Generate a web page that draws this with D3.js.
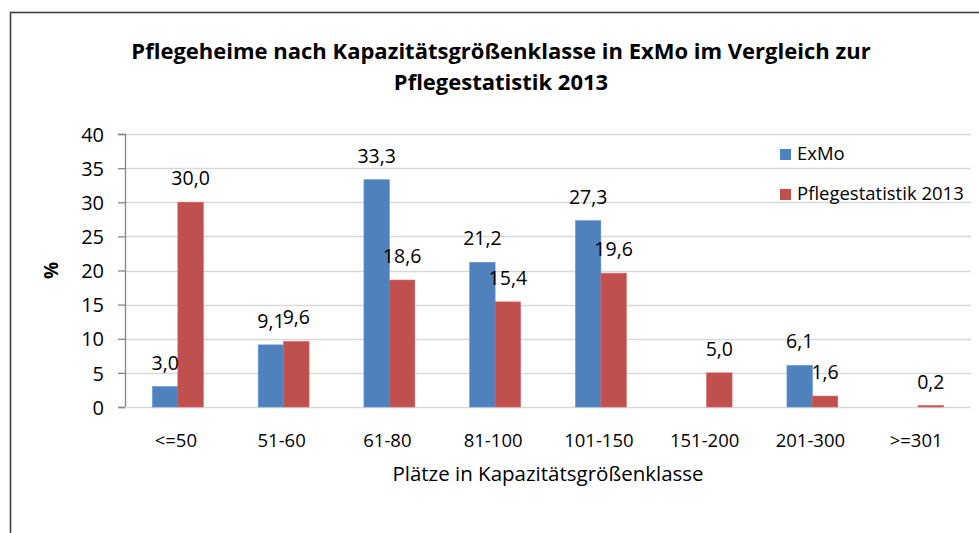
<!DOCTYPE html>
<html>
<head>
<meta charset="utf-8">
<script src="https://cdn.jsdelivr.net/npm/d3@7"></script>
<style>
  body { margin: 0; background: #fff; }
  text { font-family: "Open Sans", sans-serif; fill: #000; }
</style>
</head>
<body>
<svg id="chart" width="979" height="533"></svg>
<script>
const categories = ['<=50', '51-60', '61-80', '81-100', '101-150', '151-200', '201-300', '>=301'];
const seriesNames = ['ExMo', 'Pflegestatistik 2013'];
const exmoValues = [3.0, 9.1, 33.3, 21.2, 27.3, 0, 6.1, 0];
const pflegeValues = [30.0, 9.6, 18.6, 15.4, 19.6, 5.0, 1.6, 0.2];
const yTicks = [0, 5, 10, 15, 20, 25, 30, 35, 40];
const colors = ['#4f81bd', '#c0504d'];

const svg = d3.select('#chart');
const margin = { left: 125, right: 8, top: 134, bottom: 126 };
const width = 979 - margin.left - margin.right;
const height = 533 - margin.top - margin.bottom;

// frame round the chart
svg.append('rect')
  .attr('x', 10.5).attr('y', 12.5)
  .attr('width', 1000).attr('height', 600)
  .attr('fill', 'none')
  .attr('stroke', '#404040')
  .attr('stroke-width', 1.6);

// title
const title = svg.append('text')
  .attr('text-anchor', 'middle')
  .style('font-weight', 'bold')
  .style('font-size', '22px');
title.append('tspan').attr('x', 501).attr('y', 59)
  .text('Pflegeheime nach Kapazitätsgrößenklasse in ExMo im Vergleich zur');
title.append('tspan').attr('x', 501).attr('y', 90)
  .text('Pflegestatistik 2013');

const g = svg.append('g')
  .attr('transform', `translate(${margin.left},${margin.top})`);

const x = d3.scaleBand()
  .domain(categories)
  .range([0, width]);

const xInner = d3.scaleBand()
  .domain(seriesNames)
  .range([0, x.bandwidth()])
  .paddingInner(0)
  .paddingOuter(1.08);

const y = d3.scaleLinear()
  .domain([0, 40])
  .range([height, 0]);

// gridlines
g.append('g')
  .selectAll('line')
  .data(yTicks.filter(d => d > 0))
  .join('line')
    .attr('x1', 0).attr('x2', width)
    .attr('y1', d => Math.round(y(d)) + 0.5)
    .attr('y2', d => Math.round(y(d)) + 0.5)
    .attr('stroke', '#d9d9d9')
    .attr('stroke-width', 1.3);

// y axis
const yAxis = g.append('g')
  .call(d3.axisLeft(y).tickValues(yTicks).tickSize(7).tickPadding(14));
yAxis.select('.domain').attr('stroke', '#868686').attr('stroke-width', 1.3);
yAxis.selectAll('.tick line').attr('stroke', '#868686').attr('stroke-width', 1.3);
yAxis.selectAll('.tick text')
  .style('font-size', '20px')
  .style('font-family', '"Open Sans", sans-serif')
  .attr('fill', '#000')
  .attr('dy', '0.36em');

// x axis line
g.append('line')
  .attr('x1', 0).attr('x2', width)
  .attr('y1', height + 0.5).attr('y2', height + 0.5)
  .attr('stroke', '#d9d9d9')
  .attr('stroke-width', 1.6);

// category labels
g.append('g')
  .selectAll('text')
  .data(categories)
  .join('text')
    .attr('x', d => x(d) + x.bandwidth() / 2 - 2)
    .attr('y', height + 40)
    .attr('text-anchor', 'middle')
    .style('font-size', '18.5px')
    .text(d => d);

// bars
const rows = categories.map((c, i) => ({
  category: c,
  values: [exmoValues[i], pflegeValues[i]],
}));

const groups = g.append('g')
  .selectAll('g')
  .data(rows)
  .join('g')
    .attr('transform', d => `translate(${x(d.category)},0)`);

groups.selectAll('rect')
  .data(d => d.values.map((v, j) => ({ name: seriesNames[j], value: v, j })))
  .join('rect')
    .attr('x', d => xInner(d.name))
    .attr('y', d => y(d.value))
    .attr('width', xInner.bandwidth())
    .attr('height', d => height - y(d.value))
    .attr('fill', d => colors[d.j])
    .attr('stroke', d => d3.color(colors[d.j]).brighter(0.4))
    .attr('stroke-width', 0.6);

// data labels (zero values have none)
const fmt = v => v.toFixed(1).replace('.', ',');
groups.selectAll('text')
  .data(d => d.values.map((v, j) => ({ name: seriesNames[j], value: v, j })).filter(d => d.value > 0))
  .join('text')
    .attr('x', d => xInner(d.name) + xInner.bandwidth() / 2)
    .attr('y', d => y(d.value) - 17)
    .attr('text-anchor', 'middle')
    .style('font-size', '19.5px')
    .text(d => fmt(d.value));

// axis titles
svg.append('text')
  .attr('transform', `translate(58,${margin.top + height / 2}) rotate(-90)`)
  .attr('text-anchor', 'middle')
  .style('font-weight', 'bold')
  .style('font-size', '19px')
  .text('%');

svg.append('text')
  .attr('x', 548)
  .attr('y', 481)
  .attr('text-anchor', 'middle')
  .style('font-size', '20.5px')
  .text('Plätze in Kapazitätsgrößenklasse');

// legend
const legend = svg.append('g')
  .attr('transform', 'translate(780,0)');
const legendY = [160, 200];
seriesNames.forEach((name, i) => {
  legend.append('rect')
    .attr('x', 0).attr('y', legendY[i] - 11)
    .attr('width', 11).attr('height', 11)
    .attr('fill', colors[i]);
  legend.append('text')
    .attr('x', 17).attr('y', legendY[i])
    .style('font-size', '18.5px')
    .text(name);
});
</script>
</body>
</html>
